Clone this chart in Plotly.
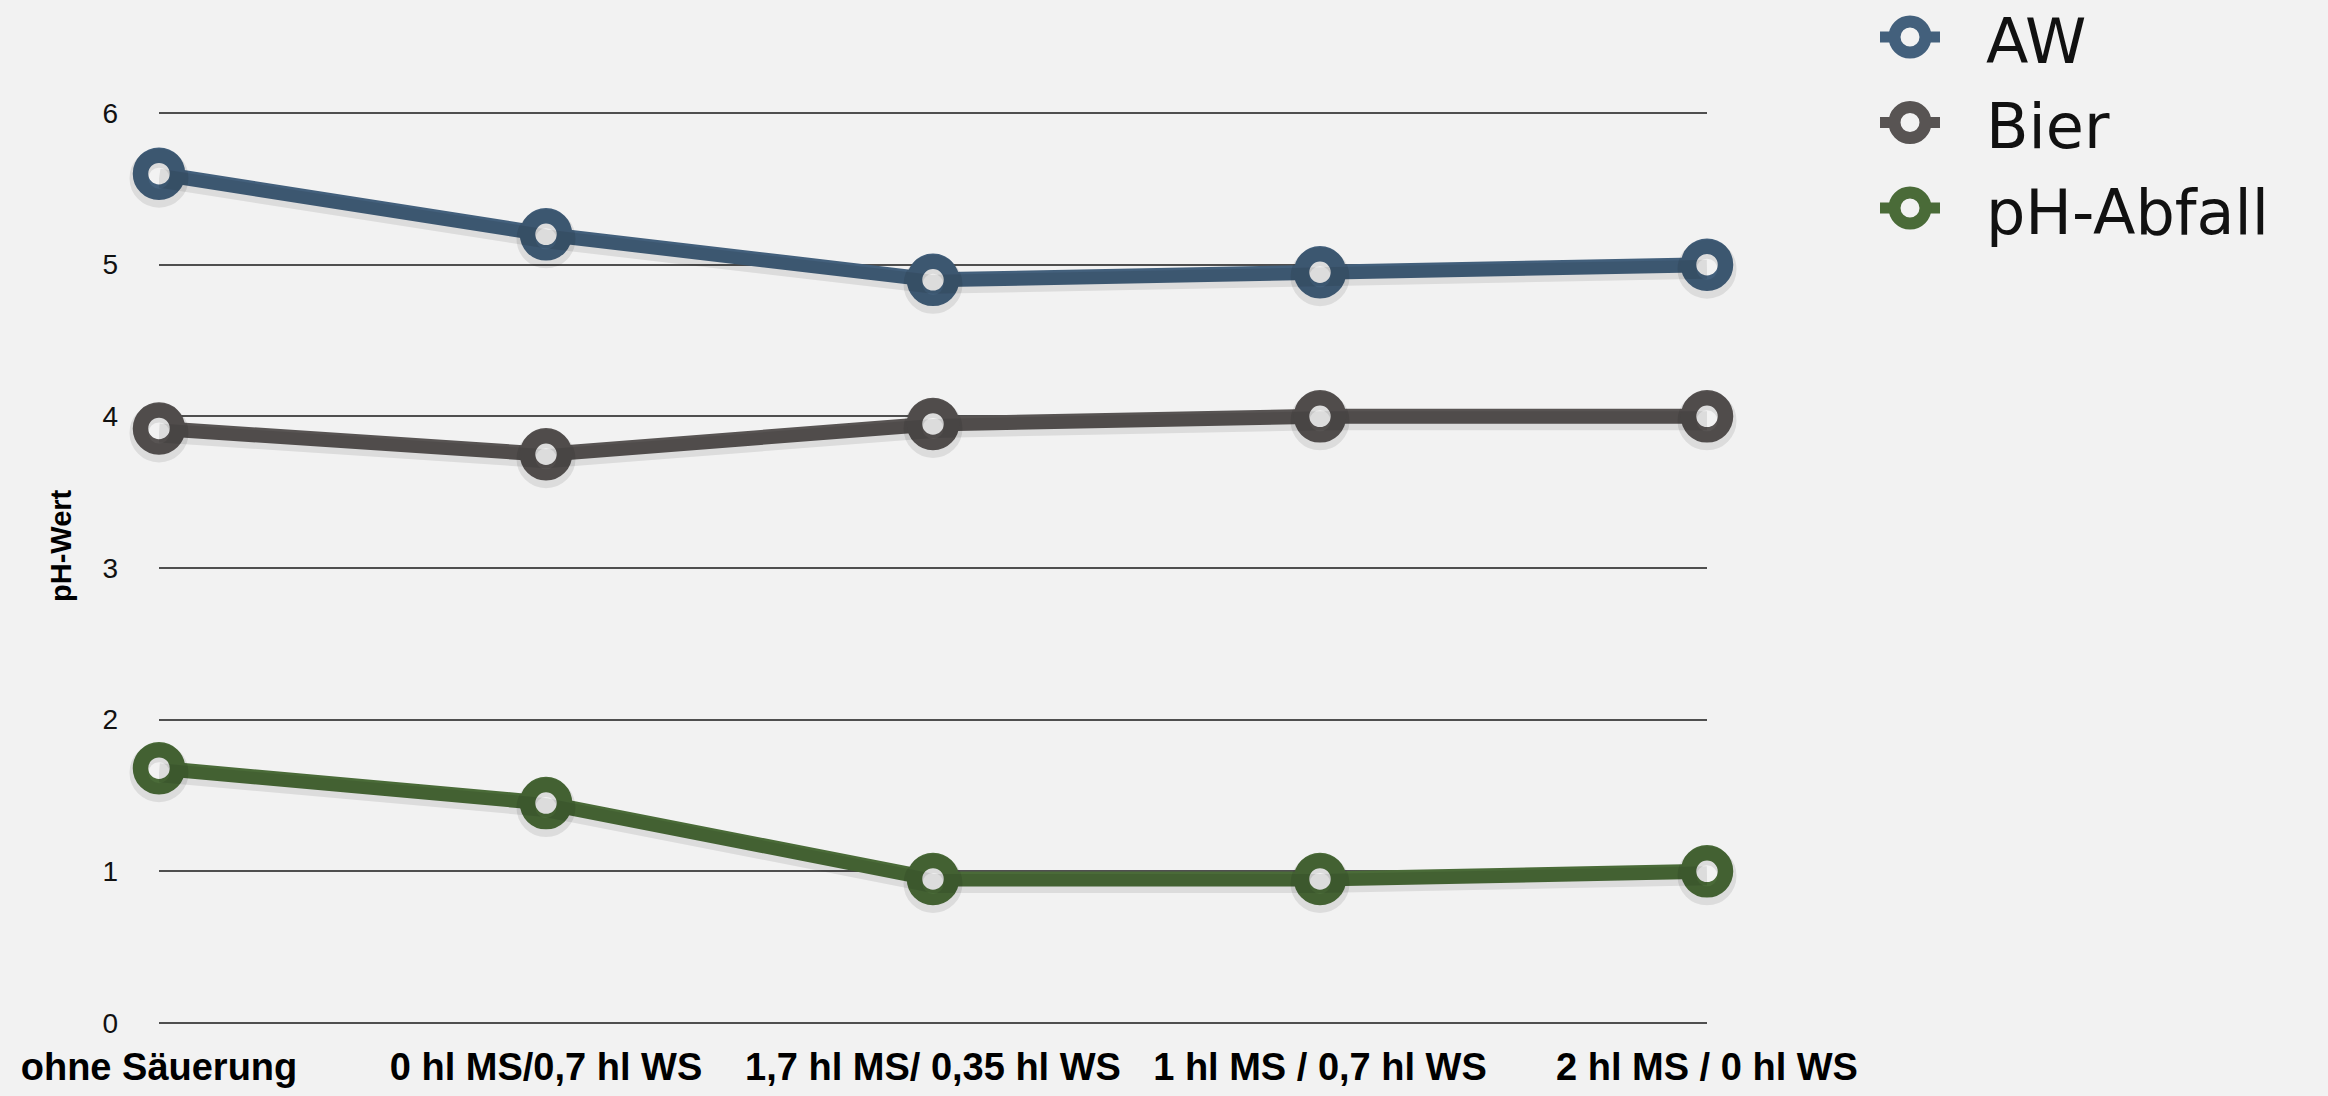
import plotly.graph_objects as go

# ---------------- data ----------------
categories = ["ohne Säuerung", "0 hl MS/0,7 hl WS", "1,7 hl MS/ 0,35 hl WS",
              "1 hl MS / 0,7 hl WS", "2 hl MS / 0 hl WS"]
aw = [5.6, 5.2, 4.9, 4.95, 5.0]
bier = [3.92, 3.75, 3.95, 4.0, 4.0]
ph_abfall = [1.68, 1.45, 0.95, 0.95, 1.0]
series_names = ["AW", "Bier", "pH-Abfall"]
y_ticks = [0, 1, 2, 3, 4, 5, 6]

# ---------------- style ----------------
W, H = 2328, 1096
BG = "#f2f2f2"
colors = ["#43607c", "#585453", "#4a6b38"]
series = [aw, bier, ph_abfall]

# plot-area pixel box (value 0 at PB, value 6 at PT)
PL, PR, PT, PB = 159, 1707, 113, 1023
px_per_unit = (PB - PT) / 6.0
pad = 4  # extra px so the edge gridlines are drawn
y_range = [-pad / px_per_unit, 6 + pad / px_per_unit]
y_domain = [1 - (PB + pad) / H, 1 - (PT - pad) / H]
shadow_shift = 4.5 / px_per_unit

fig = go.Figure()

# drop shadows (same data, drawn on an overlaying axis shifted a few pixels down)
for vals in series:
    fig.add_trace(go.Scatter(
        x=categories, y=vals, mode="lines+markers",
        line=dict(color="rgba(0,0,0,0.09)", width=19),
        marker=dict(symbol="circle", size=40, color="rgba(0,0,0,0)",
                    line=dict(color="rgba(0,0,0,0.09)", width=19)),
        xaxis="x", yaxis="y3", cliponaxis=False, hoverinfo="skip", showlegend=False))

for name, vals, col in zip(series_names, series, colors):
    fig.add_trace(go.Scatter(
        x=categories, y=vals, name=name, mode="lines+markers",
        line=dict(color=col, width=15),
        marker=dict(symbol="circle", size=37, color=BG,
                    line=dict(color=col, width=15.5)),
        cliponaxis=False, showlegend=False))

# custom legend (drawn on its own small axes, 1 unit = 1 px)
for i, (name, col) in enumerate(zip(series_names, colors)):
    row = 37 + 85.5 * i
    fig.add_trace(go.Scatter(
        x=[10, 70], y=[row, row], mode="lines",
        line=dict(color=col, width=11),
        xaxis="x2", yaxis="y2", hoverinfo="skip", showlegend=False))
    fig.add_trace(go.Scatter(
        x=[40], y=[row], mode="markers",
        marker=dict(symbol="circle", size=31, color=BG, line=dict(color=col, width=12)),
        xaxis="x2", yaxis="y2", hoverinfo="skip", showlegend=False))
    fig.add_trace(go.Scatter(
        x=[116], y=[row + 10], mode="text", text=[name], textposition="middle right",
        textfont=dict(family="DejaVu Sans", size=62, color="#111111"),
        xaxis="x2", yaxis="y2", hoverinfo="skip", showlegend=False))

fig.update_layout(
    width=W, height=H,
    margin=dict(l=0, r=0, t=0, b=0, autoexpand=False),
    paper_bgcolor=BG, plot_bgcolor=BG,
    showlegend=False,
    xaxis=dict(
        domain=[PL / W, PR / W], type="category", range=[0, 4],
        showgrid=False, zeroline=False, showline=False, ticks="",
        tickangle=0, automargin=False,
        tickfont=dict(family="Liberation Sans, Arial", size=38, color="#000000", weight="bold"),
        ticklabelstandoff=14,
    ),
    yaxis=dict(
        domain=y_domain, range=y_range,
        tickvals=y_ticks, ticktext=[str(t) for t in y_ticks],
        showgrid=True, gridcolor="#4f4f4f", gridwidth=2,
        zeroline=True, zerolinecolor="#4f4f4f", zerolinewidth=2,
        showline=False, ticks="", automargin=False,
        tickfont=dict(family="Liberation Sans, Arial", size=28, color="#111111"),
        ticklabelstandoff=40,
    ),
    yaxis3=dict(
        domain=y_domain, range=[y_range[0] + shadow_shift, y_range[1] + shadow_shift],
        overlaying="y", visible=False,
    ),
    xaxis2=dict(domain=[1870 / W, 2320 / W], range=[0, 450], visible=False),
    yaxis2=dict(domain=[1 - 260 / H, 1], range=[260, 0], visible=False),
    annotations=[dict(
        text="<b>pH-Wert</b>", textangle=-90, showarrow=False,
        xref="paper", yref="paper", x=61 / W, y=1 - 546 / H,
        xanchor="center", yanchor="middle",
        font=dict(family="Liberation Sans, Arial", size=29, color="#000000"),
    )],
)

fig.write_html("out.html")
